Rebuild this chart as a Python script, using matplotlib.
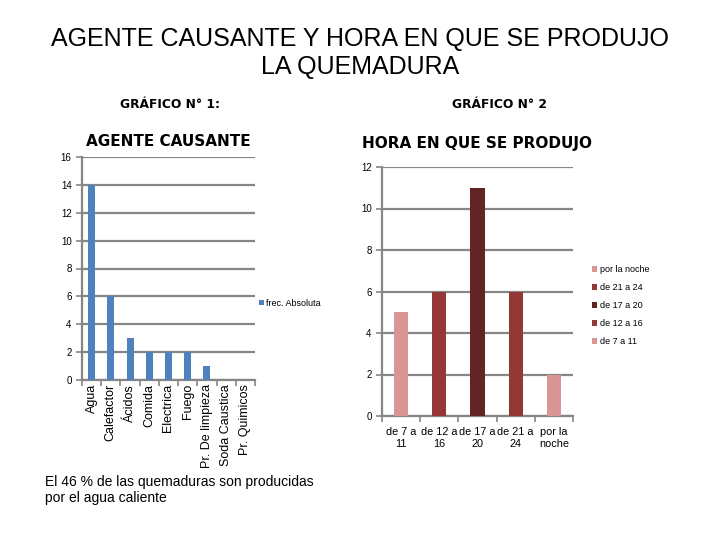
import matplotlib
matplotlib.use('Agg')
import matplotlib.pyplot as plt
import numpy as np

plt.rcParams['font.family'] = ['Liberation Sans', 'DejaVu Sans']

# data
agentes = ['Agua', 'Calefactor', 'Ácidos', 'Comida', 'Electrica', 'Fuego',
           'Pr. De limpieza', 'Soda Caustica', 'Pr. Quimicos']
frec_absoluta = [14, 6, 3, 2, 2, 2, 1, 0, 0]

horas = ['de 7 a 11', 'de 12 a 16', 'de 17 a 20', 'de 21 a 24', 'por la noche']
horas_tick = ['de 7 a\n11', 'de 12 a\n16', 'de 17 a\n20', 'de 21 a\n24', 'por la\nnoche']
frec_hora = [5, 6, 11, 6, 2]
colores_hora = ['#D99694', '#953735', '#632523', '#953735', '#D99694']

grid_col = '#868686'

fig = plt.figure(figsize=(7.2, 5.4), dpi=100)

fig.text(0.5, 1-53/540, 'AGENTE CAUSANTE Y HORA EN QUE SE PRODUJO\nLA QUEMADURA',
         ha='center', va='center', fontsize=18, linespacing=1.25)

fig.text(170/720, 1-105/540, 'GRÁFICO N° 1:', ha='center', va='center',
         fontsize=8.8, fontweight='bold', family='DejaVu Sans')
fig.text(500/720, 1-105/540, 'GRÁFICO N° 2', ha='center', va='center',
         fontsize=8.8, fontweight='bold', family='DejaVu Sans')


def style_axes(ax, n, ymax, step):
    ax.set_xlim(-0.5, n - 0.5)
    ax.set_ylim(0, ymax)
    ax.set_yticks(np.arange(0, ymax + 1, step))
    ax.yaxis.grid(True, color=grid_col, linewidth=1.6)
    ax.set_axisbelow(True)
    for s in ['top', 'right']:
        ax.spines[s].set_visible(False)
    for s in ['left', 'bottom']:
        ax.spines[s].set_color(grid_col)
        ax.spines[s].set_linewidth(1.6)
    ax.set_xticks(np.arange(-0.5, n, 1.0), minor=True)
    ax.tick_params(axis='x', which='major', length=0, pad=3)
    ax.tick_params(axis='x', which='minor', length=4, color=grid_col, width=1.2)
    ax.tick_params(axis='y', length=4, color=grid_col, width=1.2, labelsize=7)


# left chart
ax1 = fig.add_axes([82/720, 1-380/540, 173/720, 223/540])
x1 = np.arange(len(agentes))
ax1.bar(x1, frec_absoluta, width=0.36, color='#4F81BD', label='frec. Absoluta', zorder=3)
style_axes(ax1, len(agentes), 16, 2)
ax1.set_xticks(x1)
ax1.set_xticklabels(agentes, rotation=90, fontsize=9)
ax1.set_title('AGENTE CAUSANTE', fontsize=11, fontweight='bold',
              family='DejaVu Sans', pad=8)
ax1.legend(loc='center left', bbox_to_anchor=(1.0, 0.345), frameon=False,
           fontsize=6.5, handlelength=0.6, handleheight=0.6, handletextpad=0.2,
           borderaxespad=0)

# right chart
ax2 = fig.add_axes([382/720, 1-416/540, 191/720, 249/540])
x2 = np.arange(len(horas))
for i in range(len(horas)):
    ax2.bar(x2[i], frec_hora[i], width=0.37, color=colores_hora[i],
            label=horas[i], zorder=3)
style_axes(ax2, len(horas), 12, 2)
ax2.set_xticks(x2)
ax2.set_xticklabels(horas_tick, fontsize=7.8, linespacing=1.25)
ax2.tick_params(axis='x', which='major', pad=8)
ax2.set_title('HORA EN QUE SE PRODUJO', fontsize=11, fontweight='bold',
              family='DejaVu Sans', pad=14)
ax2.legend(loc='upper left', bbox_to_anchor=(1.08, 0.62), frameon=False,
           fontsize=6.5, handlelength=0.6, handleheight=0.6, handletextpad=0.3,
           labelspacing=1.0, reverse=True, borderaxespad=0)

fig.text(45/720, 1-490/540, 'El 46 % de las quemaduras son producidas\npor el agua caliente',
         ha='left', va='center', fontsize=10, linespacing=1.2)

fig.savefig('out.png', dpi=100)
